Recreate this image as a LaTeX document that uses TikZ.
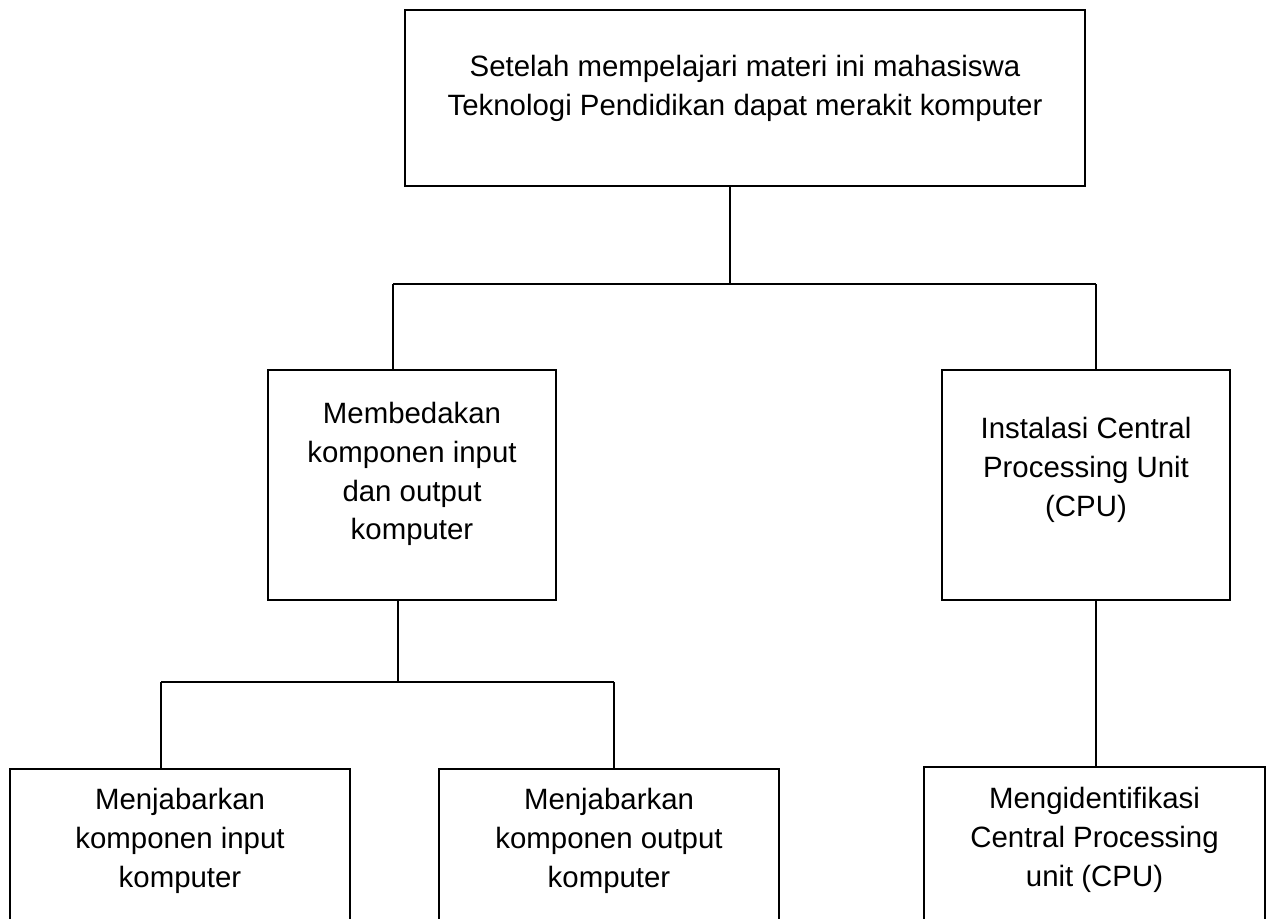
\documentclass[tikz,border=0pt]{standalone}
\usepackage{fontspec}
\setmainfont{Liberation Sans}
\begin{document}
\begin{tikzpicture}[x=0.4082pt,y=-0.4082pt,
  box/.style 2 args={draw=black, line width=1.1pt, inner sep=0pt,
    minimum width={#1*0.4082pt}, minimum height={#2*0.4082pt}},
  txt/.style={anchor=north, inner sep=0pt, align=center,
    font=\fontsize{12}{15.8}\selectfont},
  link/.style={draw=black, line width=0.5pt}]
\useasboundingbox (0,0) rectangle (1270,918);
\clip (0,0) rectangle (1270,918);

% boxes
\node[box={680}{176}] (top)  at (745,98) {};
\node[box={288}{230}] (midL) at (412,485) {};
\node[box={288}{230}] (midR) at (1086,485) {};
\node[box={340}{190}] (botA) at (180,864) {};
\node[box={340}{190}] (botB) at (609,864) {};
\node[box={341}{190}] (botC) at (1094.5,862) {};

% labels
\node[txt] (tTop) at (745,55) {Setelah mempelajari materi ini mahasiswa\\Teknologi Pendidikan dapat merakit komputer};
\node[txt] (tMidL) at (412,402) {Membedakan\\komponen input\\dan output\\komputer};
\node[txt] (tMidR) at (1086,417) {Instalasi Central\\Processing Unit\\(CPU)};
\node[txt] (tBotA) at (180,788) {Menjabarkan\\komponen input\\komputer};
\node[txt] (tBotB) at (609,788) {Menjabarkan\\komponen output\\komputer};
\node[txt] (tBotC) at (1094.5,787) {Mengidentifikasi\\Central Processing\\unit (CPU)};

% junctions
\coordinate (jTop) at (730,284);
\coordinate (jL) at (393,284);
\coordinate (jR) at (1096,284);
\coordinate (jMid) at (398,682);
\coordinate (jA) at (161,682);
\coordinate (jB) at (614,682);

% connectors
\draw[link] (top.south -| jTop) -- (jTop);
\draw[link] (jL) -- (jR);
\draw[link] (jL) -- (midL.north -| jL);
\draw[link] (jR) -- (midR.north -| jR);
\draw[link] (midL.south -| jMid) -- (jMid);
\draw[link] (jA) -- (jB);
\draw[link] (jA) -- (botA.north -| jA);
\draw[link] (jB) -- (botB.north -| jB);
\draw[link] (midR.south -| jR) -- (botC.north -| jR);
\end{tikzpicture}
\end{document}
